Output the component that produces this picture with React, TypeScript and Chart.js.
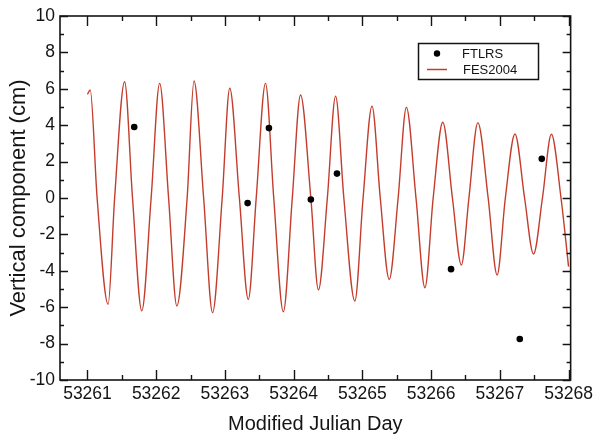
import React, { useEffect, useRef } from 'react';
import { Chart, registerables } from 'chart.js';

Chart.register(...registerables);

// FES2004 model curve: extremes and zero crossings
const fesDays = [
  53261.0, 53261.04, 53261.14, 53261.3, 53261.395, 53261.54, 53261.655, 53261.79,
  53261.926, 53262.05, 53262.18, 53262.3, 53262.45, 53262.55, 53262.69, 53262.82,
  53262.96, 53263.07, 53263.21, 53263.34, 53263.455, 53263.59, 53263.71, 53263.85,
  53263.98, 53264.1, 53264.25, 53264.36, 53264.49, 53264.61, 53264.73, 53264.89,
  53265.01, 53265.14, 53265.26, 53265.39, 53265.52, 53265.64, 53265.78, 53265.91,
  53266.03, 53266.17, 53266.31, 53266.44, 53266.55, 53266.68, 53266.83, 53266.96,
  53267.08, 53267.22, 53267.36, 53267.49, 53267.62, 53267.75, 53267.89, 53268.0,
];
const fesValues = [
  5.7, 5.93, 0, -5.84, 0, 6.39, 0, -6.2,
  0, 6.3, 0, -5.93, 0, 6.43, 0, -6.3,
  0, 6.03, 0, -5.57, 0, 6.3, 0, -6.25,
  0, 5.66, 0, -5.05, 0, 5.6, 0, -5.66,
  0, 5.05, 0, -4.47, 0, 4.98, 0, -4.93,
  0, 4.16, 0, -3.68, 0, 4.14, 0, -4.23,
  0, 3.52, 0, -3.08, 0, 3.5, 0, -3.77,
];

// FTLRS observations
const ftlrsDays = [53261.68, 53263.33, 53263.64, 53264.25, 53264.63, 53266.29, 53267.29, 53267.61];
const ftlrsValues = [3.9, -0.28, 3.84, -0.08, 1.34, -3.91, -7.75, 2.15];

const xTickValues = [
  53261, 53261.5, 53262, 53262.5, 53263, 53263.5, 53264, 53264.5,
  53265, 53265.5, 53266, 53266.5, 53267, 53267.5, 53268,
];
const yTickValues = [-10, -9, -8, -7, -6, -5, -4, -3, -2, -1, 0, 1, 2, 3, 4, 5, 6, 7, 8, 9, 10];

const seriesLabels = ['FTLRS', 'FES2004'];
const xTitle = 'Modified Julian Day';
const yTitle = 'Vertical component (cm)';

const FONT = "'Liberation Sans', Arial, Helvetica, sans-serif";
const RED = '#c43c2c';
const INK = '#141414';

const framePlugin = {
  id: 'frameTicks',
  afterDraw(chart: any) {
    const { ctx, chartArea } = chart;
    const { left, right, top, bottom } = chartArea;
    const xs = chart.scales.x;
    const ys = chart.scales.y;
    ctx.save();
    ctx.strokeStyle = INK;
    ctx.lineWidth = 1.6;
    ctx.strokeRect(left, top, right - left, bottom - top);
    ctx.lineWidth = 1.4;
    ctx.beginPath();
    xs.ticks.forEach((t: any) => {
      const px = Math.round(xs.getPixelForValue(t.value)) + 0.5;
      const len = Number.isInteger(t.value) ? 10 : 5;
      ctx.moveTo(px, bottom);
      ctx.lineTo(px, bottom - len);
      ctx.moveTo(px, top);
      ctx.lineTo(px, top + len);
    });
    ys.ticks.forEach((t: any) => {
      const py = Math.round(ys.getPixelForValue(t.value)) + 0.5;
      const len = t.value % 2 === 0 ? 8 : 4;
      ctx.moveTo(left, py);
      ctx.lineTo(left + len, py);
      ctx.moveTo(right, py);
      ctx.lineTo(right - len, py);
    });
    ctx.stroke();
    ctx.restore();
  },
};

const legendPlugin = {
  id: 'boxLegend',
  afterDraw(chart: any) {
    const { ctx } = chart;
    const ds = chart.data.datasets;
    ctx.save();
    ctx.strokeStyle = INK;
    ctx.lineWidth = 1.5;
    ctx.strokeRect(418.5, 43.5, 120, 36);
    ctx.fillStyle = '#000';
    ctx.beginPath();
    ctx.arc(437, 53.5, 3.2, 0, Math.PI * 2);
    ctx.fill();
    ctx.strokeStyle = RED;
    ctx.lineWidth = 1.5;
    ctx.beginPath();
    ctx.moveTo(427, 69.5);
    ctx.lineTo(447, 69.5);
    ctx.stroke();
    ctx.fillStyle = INK;
    ctx.font = `13px ${FONT}`;
    ctx.textBaseline = 'middle';
    ctx.textAlign = 'left';
    ctx.fillText(ds[0].label, 462, 54);
    ctx.fillText(ds[1].label, 463, 70);
    ctx.restore();
  },
};

export default function App() {
  const ref = useRef<HTMLCanvasElement | null>(null);

  useEffect(() => {
    if (!ref.current) return;
    const chart = new Chart(ref.current, {
      type: 'line',
      data: {
        datasets: [
          {
            label: seriesLabels[0],
            data: ftlrsDays.map((d, i) => ({ x: d, y: ftlrsValues[i] })),
            showLine: false,
            pointRadius: 3.3,
            pointBackgroundColor: '#000',
            pointBorderColor: '#000',
            pointBorderWidth: 0,
          },
          {
            label: seriesLabels[1],
            data: fesDays.map((d, i) => ({ x: d, y: fesValues[i] })),
            borderColor: RED,
            borderWidth: 1.4,
            pointRadius: 0,
            fill: false,
            cubicInterpolationMode: 'monotone',
          },
        ],
      },
      options: {
        responsive: false,
        animation: false,
        devicePixelRatio: 1,
        layout: { padding: { top: 16, right: 24, left: 0, bottom: 0 } },
        plugins: {
          legend: { display: false },
          tooltip: { enabled: false },
        },
        scales: {
          x: {
            type: 'linear',
            min: 53260.6,
            max: 53268.03,
            afterFit: (s: any) => {
              s.height = 54;
            },
            afterBuildTicks: (s: any) => {
              s.ticks = xTickValues.map((v) => ({ value: v }));
            },
            grid: { display: false, drawTicks: false },
            border: { display: false },
            ticks: {
              autoSkip: false,
              maxRotation: 0,
              minRotation: 0,
              padding: 4,
              color: INK,
              font: { family: FONT, size: 17.5 },
              callback: (v: any) => (Number.isInteger(v) ? String(v) : ''),
            },
            title: {
              display: true,
              text: xTitle,
              color: INK,
              font: { family: FONT, size: 20, lineHeight: 1 },
              padding: { top: 0, bottom: 0 },
            },
          },
          y: {
            type: 'linear',
            min: -10,
            max: 10,
            afterFit: (s: any) => {
              s.width = 60;
            },
            afterBuildTicks: (s: any) => {
              s.ticks = yTickValues.map((v) => ({ value: v }));
            },
            grid: { display: false, drawTicks: false },
            border: { display: false },
            ticks: {
              autoSkip: false,
              padding: 5,
              color: INK,
              font: { family: FONT, size: 17.5 },
              callback: (v: any) => (v % 2 === 0 ? String(v) : ''),
            },
            title: {
              display: true,
              text: yTitle,
              color: INK,
              font: { family: FONT, size: 22 },
              padding: { top: 6, bottom: 0 },
            },
          },
        },
      },
      plugins: [framePlugin, legendPlugin],
    } as any);
    return () => chart.destroy();
  }, []);

  return (
    <div style={{ position: 'absolute', left: 0, top: 0, width: 597, height: 434, background: '#fff' }}>
      <canvas ref={ref} width={597} height={434} style={{ width: 597, height: 434, display: 'block' }} />
    </div>
  );
}
